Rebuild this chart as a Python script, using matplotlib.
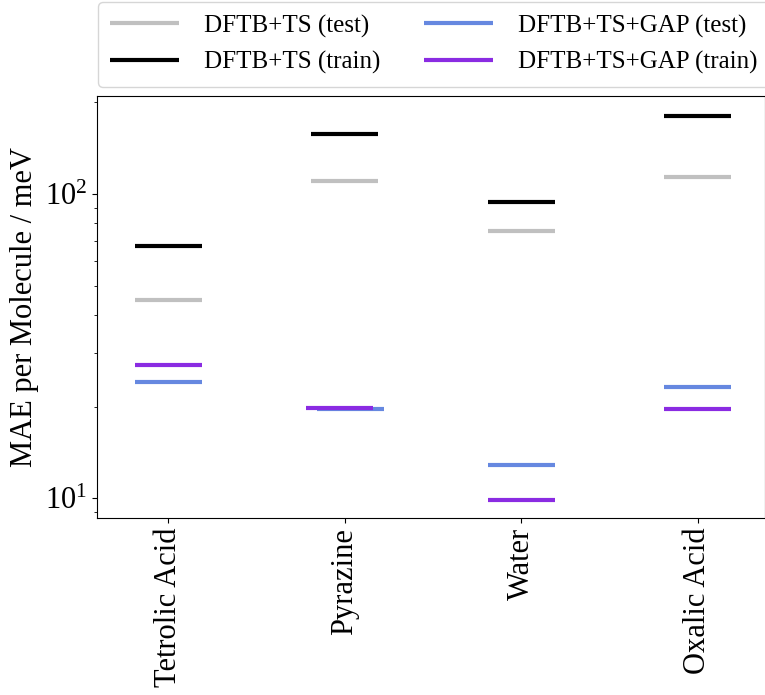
import numpy as np
import matplotlib
matplotlib.use("Agg")
import matplotlib.pyplot as plt

plt.rcParams['font.family'] = ['Liberation Serif', 'DejaVu Serif']
plt.rcParams['mathtext.fontset'] = 'stix'

molecules = ['Tetrolic Acid', 'Pyrazine', 'Water', 'Oxalic Acid']
dftb_test = [44.7, 110, 75.5, 113.5]
dftb_train = [67.2, 157, 94.3, 181]
gap_test = [24.1, 19.6, 12.8, 23.2]
gap_train = [27.3, 19.8, 9.87, 19.7]
# small horizontal nudge used for the overlapping pyrazine GAP lines
gap_test_shift = [0, 0.03, 0, 0]
gap_train_shift = [0, -0.03, 0, 0]

series = [
    ('DFTB+TS (test)', dftb_test, [0] * 4, '#c0c0c0'),
    ('DFTB+TS (train)', dftb_train, [0] * 4, 'black'),
    ('DFTB+TS+GAP (test)', gap_test, gap_test_shift, '#6688e0'),
    ('DFTB+TS+GAP (train)', gap_train, gap_train_shift, '#8a2be2'),
]

fig = plt.figure(figsize=(7.65, 6.95), dpi=100)
ax = fig.add_axes([97 / 765, 1 - 518 / 695, 668 / 765, 422 / 695])

x = np.arange(len(molecules))
half = 0.19
for label, vals, shift, color in series:
    xs = x + np.array(shift)
    ax.hlines(vals, xs - half, xs + half, colors=color, lw=3, label=label)

ax.set_yscale('log')
ax.set_ylim(8.6, 210)
ax.set_xlim(-0.404, 3.38)
ax.set_xticks(x)
ax.set_xticklabels(molecules, rotation=90, fontsize=22)
ax.tick_params(axis='y', labelsize=22)
ax.set_ylabel('MAE per Molecule / meV', fontsize=22)

ax.legend(ncol=2, fontsize=18, loc='lower left', bbox_to_anchor=(98 / 765, 1 - 87 / 695),
          bbox_transform=fig.transFigure, handlelength=2.75, handletextpad=1.0,
          columnspacing=1.75, labelspacing=0.55, borderpad=0.5, borderaxespad=0)

fig.savefig('out.png', dpi=100)
